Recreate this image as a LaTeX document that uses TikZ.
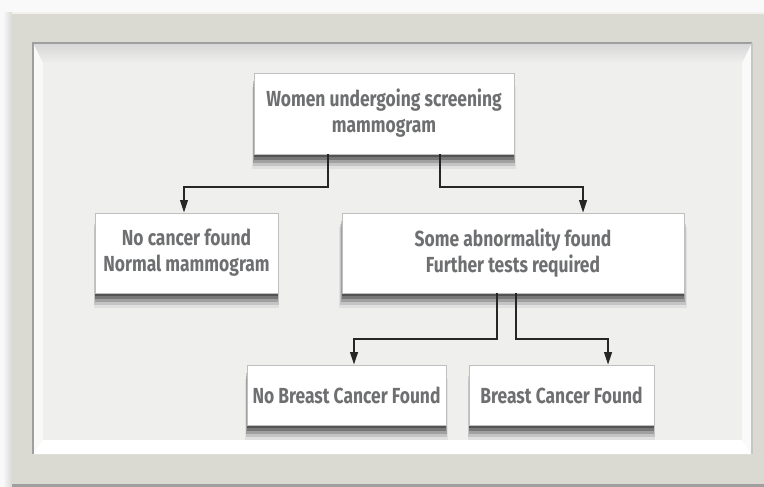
\documentclass[tikz,border=0pt]{standalone}
\usepackage{fontspec}
\setmainfont{Fira Sans}[FakeStretch=0.8]
\usetikzlibrary{arrows.meta,shadows}
\definecolor{framegray}{HTML}{DBDAD2}
\definecolor{panelgray}{HTML}{EFEFEE}
\definecolor{textgray}{HTML}{6E6F71}
\begin{document}
\begin{tikzpicture}[x=0.025cm,y=-0.025cm]
    \tikzstyle{box}=[draw=gray!50,fill=white,line width=0.4pt,text=textgray,align=center,
        font=\bfseries\fontsize{15.5}{18.5}\selectfont,
        drop shadow={shadow xshift=0pt,shadow yshift=-10pt,shadow scale=1.015,opacity=0.06,fill=black},
        drop shadow={shadow xshift=0pt,shadow yshift=-8pt,shadow scale=1.01,opacity=0.12,fill=black},
        drop shadow={shadow xshift=0pt,shadow yshift=-6pt,shadow scale=1.005,opacity=0.18,fill=black},
        drop shadow={shadow xshift=0pt,shadow yshift=-4pt,opacity=0.25,fill=black},
        drop shadow={shadow xshift=0pt,shadow yshift=-2pt,opacity=0.3,fill=black}]
    \tikzstyle{arrow}=[-{Triangle[length=9pt,width=5.5pt]},line width=1.3pt,black!85]

    \useasboundingbox (0,0) rectangle (764,487);
    % frame and panel
    \fill[gray!5] (0,0) rectangle (764,487);
    \shade[left color=gray!5,right color=gray!30] (3,12) rectangle (12,487);
    \fill[framegray] (12,12) rectangle (764,487);
    \draw[white!60!framegray,line width=1.5pt] (12,13) -- (764,13);
    \fill[gray!75] (12,484) rectangle (764,487);
    \fill[panelgray] (33,43) rectangle (752,454);
    \shade[top color=gray!32,bottom color=panelgray] (33,43) -- (752,43) -- (742,63) -- (43,63) -- cycle;
    \fill[white!60!panelgray] (33,43) -- (43,63) -- (43,440) -- (33,454) -- cycle;
    \fill[white] (33,454) -- (43,440) -- (742,440) -- (752,454) -- cycle;
    \fill[white!70!panelgray] (752,43) -- (742,63) -- (742,440) -- (752,454) -- cycle;
    \draw[gray!75,line width=1.3pt] (33,454) -- (33,43) -- (752,43);
    \draw[gray!45,line width=0.8pt] (752,43) -- (752,454);

    \node[box,minimum width=6.5cm,minimum height=2.025cm] at (384,113.5) (women) {Women undergoing screening\\ mammogram};
    \node[box,minimum width=4.575cm,minimum height=2cm] at (186.5,253) (nocancer) {No cancer found\\ Normal mammogram};
    \node[box,minimum width=8.55cm,minimum height=2cm] at (513,253) (abnormal) {Some abnormality found\\ Further tests required};
    \node[box,minimum width=4.975cm,minimum height=1.5cm] at (346.5,395) (nobreast) {No Breast Cancer Found};
    \node[box,minimum width=4.625cm,minimum height=1.5cm] at (561.5,395) (breast) {Breast Cancer Found};

    \draw[arrow] ([xshift=-1.4cm]women.south) -- ++(0,33) -| ([xshift=-0.0625cm]nocancer.north);
    \draw[arrow] ([xshift=1.4cm]women.south) -- ++(0,33) -| ([xshift=1.75cm]abnormal.north);
    \draw[arrow] ([xshift=-0.4cm]abnormal.south) -- ++(0,46) -| ([xshift=0.1875cm]nobreast.north);
    \draw[arrow] ([xshift=0.075cm]abnormal.south) -- ++(0,46) -| ([xshift=1.1625cm]breast.north);
\end{tikzpicture}
\end{document}
